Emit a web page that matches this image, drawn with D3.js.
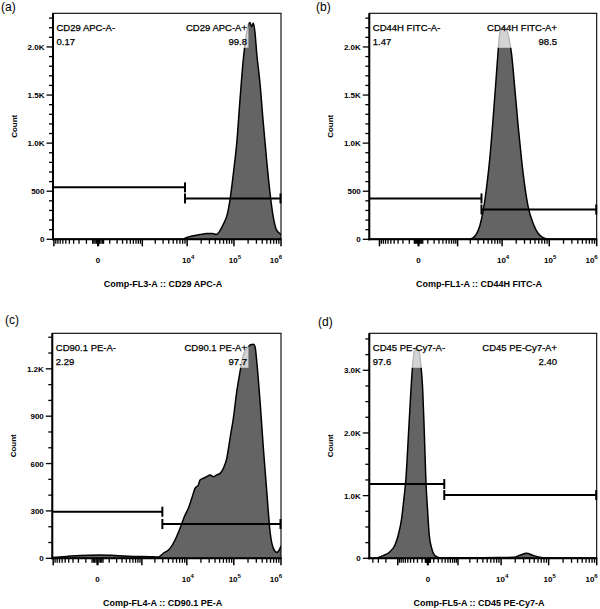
<!DOCTYPE html>
<html><head><meta charset="utf-8">
<script src="https://cdn.jsdelivr.net/npm/d3@7"></script>
<style>
body{margin:0;background:#fff}
text{font-family:"Liberation Sans",Arial,Helvetica,sans-serif;fill:#000}
</style>
</head><body>
<svg id="chart" width="600" height="609"></svg>
<script>
// ---------------- DATA ----------------
const panelLetters = ["(a)", "(b)", "(c)", "(d)"];
const axisTitles = ["Comp-FL3-A :: CD29 APC-A", "Comp-FL1-A :: CD44H FITC-A", "Comp-FL4-A :: CD90.1 PE-A", "Comp-FL5-A :: CD45 PE-Cy7-A"];
const negGateNames = ["CD29 APC-A-", "CD44H FITC-A-", "CD90.1 PE-A-", "CD45 PE-Cy7-A-"];
const posGateNames = ["CD29 APC-A+", "CD44H FITC-A+", "CD90.1 PE-A+", "CD45 PE-Cy7-A+"];
const negGatePct = ["0.17", "1.47", "2.29", "97.6"];
const posGatePct = ["99.8", "98.5", "97.7", "2.40"];

// gate split (fluorescence) and display heights (count) of the two gate bars
const gateSplit = [9000, 3570, 2940, 370];
const gateNegLevel = [540, 425, 295, 1185];
const gatePosLevel = [425, 310, 217, 1010];

// y axis
const yAxisMax = [2350, 2350, 1425, 3590];
const yMajorStep = [500, 500, 300, 1000];
const yMinorStep = [100, 100, 100, 250];
const yAxisLabel = "Count";

// x axis labelled ticks
const xLabelTicks = [0, 1e4, 1e5, 1e6];

// histograms: fluorescence value / count
const aValues = [-1050, 7900, 9950, 12800, 18900, 26500, 35000, 42000, 50450, 58500, 73000, 82400, 97500, 116000, 134400, 158000, 186000, 202000, 219000, 238000, 258000, 280000, 304000, 358000, 420000, 494000, 584000, 686000, 806000, 950000, 1000000];
const aCounts = [0, 0, 20, 35, 50, 60, 60, 50, 90, 150, 270, 410, 690, 1030, 1450, 1870, 2150, 2230, 2255, 2210, 2250, 2150, 1940, 1620, 1210, 830, 480, 230, 95, 60, 55];

const bValues = [-1750, 1800, 2340, 2790, 3310, 3910, 4640, 5480, 6460, 7640, 8270, 9000, 9780, 10950, 12510, 14210, 15980, 18770, 22050, 26030, 30570, 35900, 45760, 58360, 74360, 102900, 1000000];
const bCounts = [0, 0, 18, 60, 146, 303, 546, 860, 1277, 1747, 1973, 2150, 2190, 2200, 2180, 2078, 1920, 1556, 1172, 825, 546, 337, 164, 60, 18, 0, 0];

const cValues = [-1050, -454, -175, 17, 175, 615, 1553, 2393, 3091, 4336, 5567, 7140, 9150, 10780, 12740, 14990, 17620, 19160, 22530, 26620, 31300, 36820, 43490, 51100, 60060, 70850, 83220, 97800, 115400, 135600, 159400, 188100, 221000, 259700, 282200, 306700, 360200, 423200, 499500, 586700, 689100, 813200, 955000, 1000000];
const cCounts = [5, 12, 18, 21, 18, 12, 10, 8, 32, 63, 116, 190, 274, 317, 380, 443, 464, 496, 507, 517, 528, 517, 528, 538, 570, 633, 760, 887, 1055, 1182, 1288, 1330, 1351, 1355, 1340, 1245, 992, 697, 422, 168, 63, 38, 63, 80];

const dValues = [-4800, -3915, -2309, -1590, -1186, -968, -776, -663, -574, -482, -396, -331, -273, -220, -171, -127, -88, -58, -30, -3, 21, 62, 125, 243, 1130, 9450, 18130, 25110, 34720, 47740, 77190, 172000, 1000000];
const dCounts = [0, 0, 43, 106, 213, 372, 638, 957, 1276, 1914, 2605, 3084, 3323, 3360, 3323, 3110, 2712, 2020, 1223, 744, 372, 160, 43, 10, 10, 12, 15, 50, 80, 45, 10, 5, 5];

const allValues = [aValues, bValues, cValues, dValues];
const allCounts = [aCounts, bCounts, cCounts, dCounts];

// ---------------- LAYOUT ----------------
const layout = [
  {L:53,   R:281,   T:13.3,  B:239.3, C:130, lo:-1050, hi:1e6, letterX:1,   letterY:10.8, posX:247},
  {L:369.3,R:596.7, T:13.3,  B:239.3, C:177, lo:-1750, hi:1e6, letterX:316, letterY:10.8, posX:557},
  {L:52.3, R:281,   T:333.3, B:558.3, C:130, lo:-1050, hi:1e6, letterX:5,   letterY:324,  posX:247},
  {L:369.3,R:596.7, T:333.3, B:558.3, C:310, lo:-4800, hi:1e6, letterX:318, letterY:325.8,posX:557}
];

const svg = d3.select("#chart");
const defs = svg.append("defs");
const fmtY = v => v === 0 ? "0" : (v >= 1000 ? (v/1000).toFixed(1) + "K" : String(v));

layout.forEach((P, i) => {
  const g = svg.append("g");
  const x = d3.scaleSymlog().constant(P.C).domain([P.lo, P.hi]).range([P.L, P.R]);
  const y = d3.scaleLinear().domain([0, yAxisMax[i]]).range([P.B, P.T]);

  defs.append("clipPath").attr("id", "clip" + i)
    .append("rect").attr("x", P.L).attr("y", P.T).attr("width", P.R - P.L).attr("height", P.B - P.T);

  const pts = d3.zip(allValues[i], allCounts[i]);
  const area = d3.area().x(d => x(d[0])).y0(y(0)).y1(d => y(d[1])).curve(d3.curveMonotoneX);
  const line = d3.line().x(d => x(d[0])).y(d => y(d[1])).curve(d3.curveMonotoneX);
  const hg = g.append("g").attr("clip-path", `url(#clip${i})`);
  hg.append("path").attr("d", area(pts)).attr("fill", "#646464");
  hg.append("path").attr("d", line(pts)).attr("fill", "none").attr("stroke", "#000").attr("stroke-width", 1.5);

  // gates
  const sx = x(gateSplit[i]);
  const yl = y(gateNegLevel[i]), yr = y(gatePosLevel[i]);
  const gg = g.append("g").attr("stroke", "#000").attr("stroke-width", 2).attr("fill", "none");
  gg.append("line").attr("x1", P.L).attr("x2", sx).attr("y1", yl).attr("y2", yl);
  gg.append("line").attr("x1", sx).attr("x2", sx).attr("y1", yl - 5).attr("y2", yl + 5);
  gg.append("line").attr("x1", sx).attr("x2", P.R).attr("y1", yr).attr("y2", yr);
  gg.append("line").attr("x1", sx).attr("x2", sx).attr("y1", yr - 5).attr("y2", yr + 5);
  gg.append("line").attr("x1", P.R - 0.5).attr("x2", P.R - 0.5).attr("y1", yr - 5).attr("y2", yr + 5);

  // gate labels with translucent boxes
  function gateLabel(xPos, anchor, name, pct) {
    const lg = g.append("g");
    const box = lg.append("rect").attr("fill", "#fff").attr("fill-opacity", 0.72);
    const tg = lg.append("g").style("font-size", "9.5px").style("stroke", "#000").style("stroke-width", "0.25px");
    tg.append("text").attr("x", xPos).attr("y", P.T + 17.5).attr("text-anchor", anchor).text(name);
    tg.append("text").attr("x", xPos).attr("y", P.T + 31.5).attr("text-anchor", anchor).text(pct);
    const bb = tg.node().getBBox();
    box.attr("x", bb.x - 1).attr("y", bb.y - 0.5).attr("width", bb.width + 2).attr("height", bb.height + 1.5);
  }
  gateLabel(P.L + 3.5, "start", negGateNames[i], negGatePct[i]);
  gateLabel(P.posX, "end", posGateNames[i], posGatePct[i]);

  // frame
  g.append("rect").attr("x", P.L).attr("y", P.T).attr("width", P.R - P.L).attr("height", P.B - P.T)
    .attr("fill", "none").attr("stroke", "#000").attr("stroke-width", 1.1);
  g.append("line").attr("x1", P.L).attr("x2", P.L).attr("y1", P.T).attr("y2", P.B + 1)
    .attr("stroke", "#000").attr("stroke-width", 2);
  g.append("line").attr("x1", P.L - 1).attr("x2", P.R + 0.5).attr("y1", P.B).attr("y2", P.B)
    .attr("stroke", "#000").attr("stroke-width", 2);

  // y ticks
  const yMinor = d3.range(0, yAxisMax[i] + 1, yMinorStep[i]);
  const yMajor = d3.range(0, yAxisMax[i] + 1, yMajorStep[i]);
  const yt = g.append("g").attr("stroke", "#000").attr("stroke-width", 1.3);
  yMinor.forEach(v => {
    const isMaj = v % yMajorStep[i] === 0;
    yt.append("line").attr("x1", P.L - (isMaj ? 6.5 : 4)).attr("x2", P.L).attr("y1", y(v)).attr("y2", y(v));
  });
  g.append("g").selectAll("text").data(yMajor).join("text")
    .attr("x", P.L - 8.5).attr("y", d => y(d) + 3).attr("text-anchor", "end")
    .style("font-size", "8px").style("font-weight", "bold").text(fmtY);

  g.append("text").attr("transform", `translate(${P.L - 36.5},${(P.T + P.B) / 2}) rotate(-90)`)
    .attr("text-anchor", "middle").style("font-size", "8px").style("font-weight", "bold").text(yAxisLabel);

  // x ticks (biexponential-like display)
  const majX = [0], minX = [];
  for (let n = 1; n <= 6; n++) {
    for (let k = 1; k <= 9; k++) {
      if (n === 1 && k > 4) continue;
      [1, -1].forEach(s => {
        const v = s * k * Math.pow(10, n);
        if (v < P.lo || v > P.hi) return;
        if (k === 1 && n >= 3) majX.push(v); else minX.push(v);
      });
    }
  }
  const xt = g.append("g").attr("stroke", "#000").attr("stroke-width", 1.3);
  minX.forEach(v => xt.append("line").attr("x1", x(v)).attr("x2", x(v)).attr("y1", P.B).attr("y2", P.B + 4.5));
  majX.forEach(v => xt.append("line").attr("x1", x(v)).attr("x2", x(v)).attr("y1", P.B).attr("y2", P.B + 7).attr("stroke-width", v === 0 ? 2.2 : 1.5));

  xLabelTicks.forEach(v => {
    const px = x(v);
    const nearEdge = P.R - px < 6;
    const t = g.append("text").attr("y", P.B + 24).style("font-size", "8px").style("font-weight", "bold");
    if (v === 0) {
      t.attr("x", px).attr("text-anchor", "middle").text("0");
    } else {
      const e = Math.round(Math.log10(v));
      t.attr("x", nearEdge ? P.R + 1 : px + 1).attr("text-anchor", nearEdge ? "end" : "middle");
      t.append("tspan").text("10");
      t.append("tspan").attr("dy", -4).style("font-size", "6px").text(e);
    }
  });

  // axis title
  g.append("text").attr("x", (P.L + P.R) / 2 - 4).attr("y", P.B + 47.5).attr("text-anchor", "middle")
    .style("font-size", "9px").style("font-weight", "bold").text(axisTitles[i]);

  // panel letter
  g.append("text").attr("x", P.letterX).attr("y", P.letterY).style("font-size", "12px").text(panelLetters[i]);
});
</script>
</body></html>
